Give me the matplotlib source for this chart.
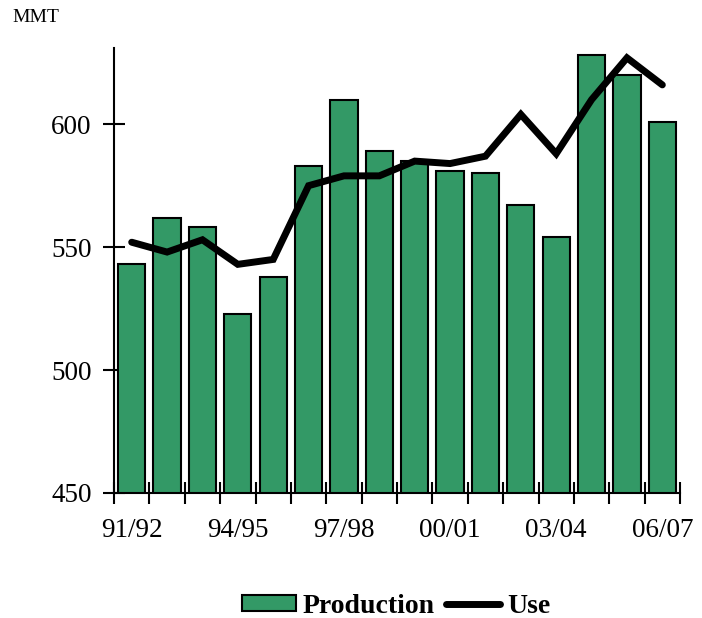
import numpy as np
import matplotlib.pyplot as plt
from matplotlib.patches import Patch
from matplotlib.lines import Line2D

# marketing years, production and use (million metric tons)
years = ['91/92', '92/93', '93/94', '94/95', '95/96', '96/97', '97/98', '98/99',
         '99/00', '00/01', '01/02', '02/03', '03/04', '04/05', '05/06', '06/07']
production = [543, 562, 558, 523, 538, 583, 610, 589, 585, 581, 580, 567, 554, 628, 620, 601]
use = [552, 548, 553, 543, 545, 575, 579, 579, 585, 584, 587, 604, 588, 610, 627, 616]
shown_labels = ['91/92', '94/95', '97/98', '00/01', '03/04', '06/07']

plt.rcParams['font.family'] = ['Liberation Serif', 'DejaVu Serif']

fig = plt.figure(figsize=(7.02, 6.18), dpi=100)
ax = fig.add_axes([0.1624, 0.2023, 0.8063, 0.72])

x = np.arange(len(years))
ax.bar(x, production, width=0.77, color='#339966', edgecolor='black', linewidth=1.5, zorder=2)
ax.plot(x, use, color='black', linewidth=5, solid_capstyle='round', solid_joinstyle='miter', zorder=3)

ax.set_xlim(-0.5, len(years) - 0.5)
ax.set_ylim(450, 631)

ax.set_yticks([450, 500, 550, 600])
ax.tick_params(axis='y', direction='inout', length=16, width=1.5, labelsize=19.5, pad=8)

label_pos = [years.index(s) for s in shown_labels]
ax.set_xticks(label_pos)
ax.set_xticklabels(shown_labels)
ax.set_xticks(np.arange(-0.5, len(years)), minor=True)
ax.tick_params(axis='x', which='major', length=0, labelsize=19.5, pad=18)
ax.tick_params(axis='x', which='minor', direction='inout', length=16, width=1.5)

for s in ['top', 'right']:
    ax.spines[s].set_visible(False)
for s in ['left', 'bottom']:
    ax.spines[s].set_linewidth(1.5)

fig.text(0.017, 0.972, 'MMT', fontsize=14, va='center', ha='left')

handles = [Patch(facecolor='#339966', edgecolor='black', linewidth=1.5),
           Line2D([0], [0], color='black', linewidth=5, solid_capstyle='round')]
fig.legend(handles, ['Production', 'Use'], loc='center', bbox_to_anchor=(0.564, 0.019),
           ncol=2, frameon=False, prop={'weight': 'bold', 'size': 20},
           handlelength=1.95, handleheight=0.5, handletextpad=0.25, columnspacing=0.4)

fig.savefig('out.png', dpi=100)
